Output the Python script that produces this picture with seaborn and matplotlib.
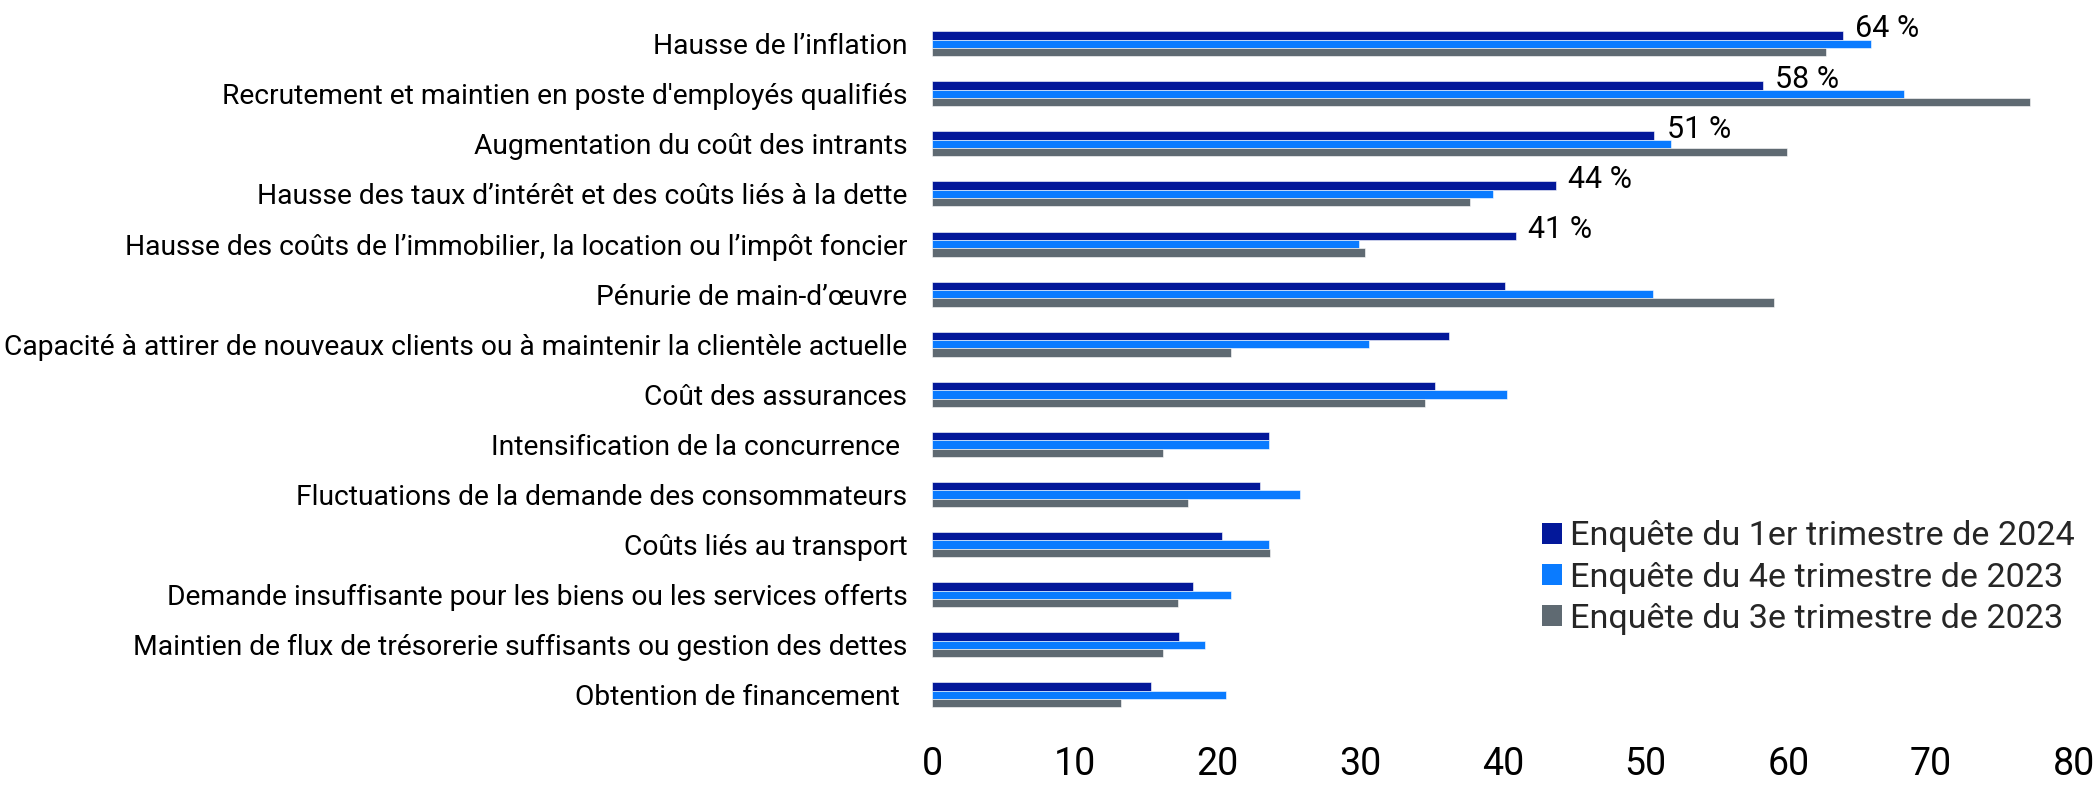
import pandas as pd
import numpy as np
import matplotlib
matplotlib.use('Agg')
import matplotlib.pyplot as plt
import seaborn as sns

# categories (top to bottom)
categories = [
    "Hausse de l’inflation",
    "Recrutement et maintien en poste d'employés qualifiés",
    "Augmentation du coût des intrants",
    "Hausse des taux d’intérêt et des coûts liés à la dette",
    "Hausse des coûts de l’immobilier, la location ou l’impôt foncier",
    "Pénurie de main-d’œuvre",
    "Capacité à attirer de nouveaux clients ou à maintenir la clientèle actuelle",
    "Coût des assurances",
    "Intensification de la concurrence ",
    "Fluctuations de la demande des consommateurs",
    "Coûts liés au transport",
    "Demande insuffisante pour les biens ou les services offerts",
    "Maintien de flux de trésorerie suffisants ou gestion des dettes",
    "Obtention de financement ",
]

series_names = [
    "Enquête du 1er trimestre de 2024",
    "Enquête du 4e trimestre de 2023",
    "Enquête du 3e trimestre de 2023",
]

q1_2024 = [63.8, 58.2, 50.6, 43.7, 40.9, 40.1, 36.2, 35.2, 23.6, 23.0, 20.3, 18.3, 17.3, 15.3]
q4_2023 = [65.8, 68.1, 51.8, 39.3, 29.9, 50.5, 30.6, 40.3, 23.6, 25.8, 23.6, 20.9, 19.1, 20.6]
q3_2023 = [62.6, 76.9, 59.9, 37.7, 30.3, 59.0, 20.9, 34.5, 16.2, 17.9, 23.7, 17.2, 16.2, 13.2]

n_labelled = 5  # only first rows of the latest survey get a value label

colors = ["#03189a", "#0a7bff", "#5f6a72"]

df = pd.DataFrame({
    "cat": categories * 3,
    "val": q1_2024 + q4_2023 + q3_2023,
    "serie": [series_names[0]] * len(categories)
             + [series_names[1]] * len(categories)
             + [series_names[2]] * len(categories),
})

sns.set_theme(style="white")
plt.rcParams['font.family'] = ['Roboto', 'DejaVu Sans']

fig = plt.figure(figsize=(21, 7.86), dpi=100)
ax = fig.add_axes([0.44395, 0.084, 0.5436, 0.8923])

sns.barplot(data=df, y="cat", x="val", hue="serie", orient="h",
            palette=colors, width=0.5, saturation=1, ax=ax,
            edgecolor="white", linewidth=0.4, legend=True)

ax.set_xlim(0, 80)
ax.set_ylim(len(categories) - 0.5, -0.5)
ax.set_xticks(np.arange(0, 81, 10))
ax.set_xlabel("")
ax.set_ylabel("")
sns.despine(ax=ax, left=True, bottom=True)
ax.tick_params(axis="x", labelsize=27, pad=19, length=0, colors="black")
ax.tick_params(axis="y", labelsize=20.3, pad=18, length=0, colors="black")

# value labels on the top rows
for i, bar in enumerate(ax.containers[0]):
    if i >= n_labelled:
        break
    w = bar.get_width()
    yc = bar.get_y() + bar.get_height() / 2
    ax.annotate(f"{round(q1_2024[i])} %", xy=(w, yc), xytext=(9, -1.5),
                textcoords="offset points", ha="left", va="baseline",
                fontsize=22, color="black")

leg = ax.legend(loc="upper left", bbox_to_anchor=(0.7343, 0.338),
                bbox_transform=fig.transFigure, frameon=False,
                fontsize=24.6, handlelength=0.58, handleheight=0.58,
                handletextpad=0.24, labelspacing=0.27,
                borderpad=0, borderaxespad=0)
for h in leg.legend_handles:
    h.set_edgecolor("none")

fig.savefig("out.png", dpi=100)
